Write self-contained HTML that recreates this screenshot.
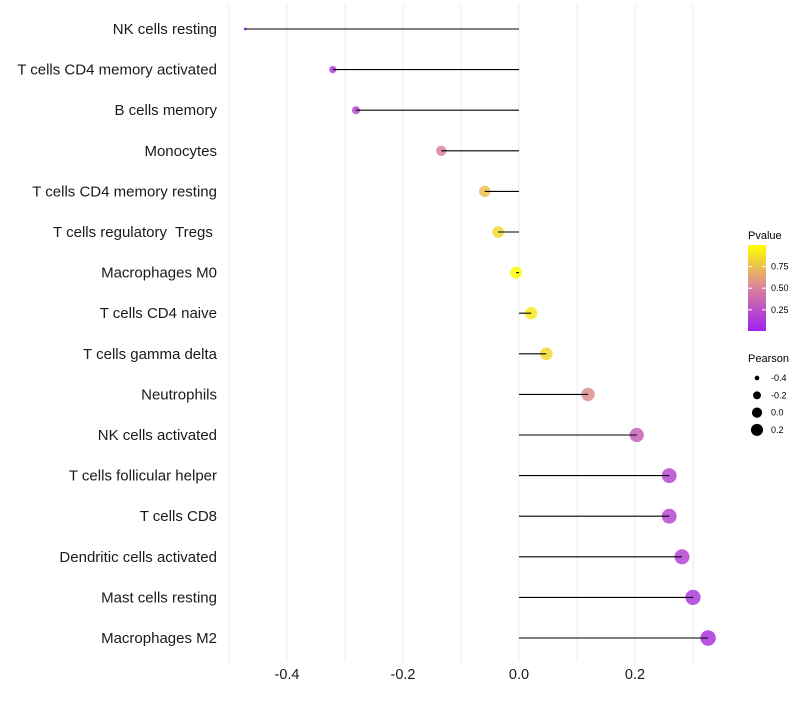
<!DOCTYPE html>
<html><head><meta charset="utf-8"><style>
body{margin:0;background:#fff;font-family:"Liberation Sans",sans-serif}
svg text{font-family:"Liberation Sans",sans-serif;white-space:pre}
</style></head><body>
<svg id="chart" width="800" height="700">
<defs><linearGradient id="pg" x1="0" y1="1" x2="0" y2="0">
<stop offset="0" stop-color="#a020f0"/><stop offset="0.5" stop-color="#d9829e"/><stop offset="1" stop-color="#ffff00"/></linearGradient></defs>
<g id="grid"></g>
<g id="marks"></g>
<g id="labels"></g>
<g>
<text x="748" y="239" font-size="11">Pvalue</text>
<rect x="748" y="245" width="18" height="86" fill="url(#pg)"/>
<g id="pleg"></g>
</g>
<g>
<text x="748" y="362" font-size="11">Pearson</text>
<g id="sleg"></g>
</g>
</svg>
<script>
const categories=["NK cells resting","T cells CD4 memory activated","B cells memory","Monocytes","T cells CD4 memory resting","T cells regulatory  Tregs ","Macrophages M0","T cells CD4 naive","T cells gamma delta","Neutrophils","NK cells activated","T cells follicular helper","T cells CD8","Dendritic cells activated","Mast cells resting","Macrophages M2"];
const pearson=[-0.472,-0.321,-0.281,-0.134,-0.059,-0.036,-0.005,0.021,0.047,0.119,0.203,0.259,0.259,0.281,0.300,0.326];
const pvalues=[0.02,0.15,0.2,0.5,0.75,0.85,0.98,0.92,0.85,0.55,0.33,0.2,0.2,0.18,0.13,0.1];
const xTicks=[-0.4,-0.2,0,0.2];
const xMinor=[-0.5,-0.3,-0.1,0.1,0.3];
const pTicks=[0.25,0.5,0.75];
const sizeTicks=[-0.4,-0.2,0.0,0.2];
const NS="http://www.w3.org/2000/svg";
const X=v=>519+v*580;
const Y=i=>29+i*(609/15);
const R=v=>Math.sqrt(Math.max(1,2.25+(v+0.472)*72));
function mk(t,a,p){const e=document.createElementNS(NS,t);for(const k in a)e.setAttribute(k,a[k]);(p||document.getElementById('chart')).appendChild(e);return e;}
function hex(h){return[parseInt(h.substr(1,2),16),parseInt(h.substr(3,2),16),parseInt(h.substr(5,2),16)];}
const stops=[[0,hex('#a020f0')],[0.5,hex('#d9829e')],[1,hex('#ffff00')]];
function col(p){const t=Math.min(1,Math.max(0,(p-0.005)/0.995));let a=t<0.5?stops[0]:stops[1],b=t<0.5?stops[1]:stops[2];const f=(t-a[0])/(b[0]-a[0]);return 'rgb('+a[1].map((c,i)=>Math.round(c+(b[1][i]-c)*f)).join(',')+')';}
const grid=document.getElementById('grid'),marks=document.getElementById('marks'),labels=document.getElementById('labels');
[...xTicks,...xMinor].forEach(v=>{const l=mk('line',{x1:X(v),x2:X(v),y1:5,y2:662,stroke:'#ebebeb','stroke-width':1},grid);

});
xTicks.forEach(v=>{const t=mk('text',{x:X(v),y:679,'font-size':14.5,'text-anchor':'middle',fill:'#1a1a1a'},labels);t.textContent=v===0?'0.0':v.toFixed(1);

});
categories.forEach((c,i)=>{
const t=mk('text',{x:217,y:Y(i)+5,'font-size':15,'text-anchor':'end',fill:'#1a1a1a'},labels);t.textContent=c;


const p=mk('circle',{cx:X(pearson[i]),cy:Y(i),r:R(pearson[i]),fill:col(pvalues[i]),'fill-opacity':0.85},marks);


const s=mk('line',{x1:X(pearson[i]),x2:X(0),y1:Y(i),y2:Y(i),stroke:'#000','stroke-width':1.1},marks);


});
const pleg=document.getElementById('pleg');
pTicks.forEach(v=>{const y=331-(v-0.005)/0.995*86;
mk('line',{x1:748,x2:752,y1:y,y2:y,stroke:'#fff'},pleg);mk('line',{x1:762,x2:766,y1:y,y2:y,stroke:'#fff'},pleg);
const t=mk('text',{x:771,y:y+3,'font-size':9},pleg);t.textContent=v.toFixed(2);

});
const sleg=document.getElementById('sleg');
sizeTicks.forEach((v,i)=>{const y=378+i*17.3;
const c=mk('circle',{cx:757,cy:y,r:R(v)*0.85,fill:'#000'},sleg);


const t=mk('text',{x:771,y:y+3,'font-size':9},sleg);t.textContent=v.toFixed(1);

});
</script>
</body></html>
